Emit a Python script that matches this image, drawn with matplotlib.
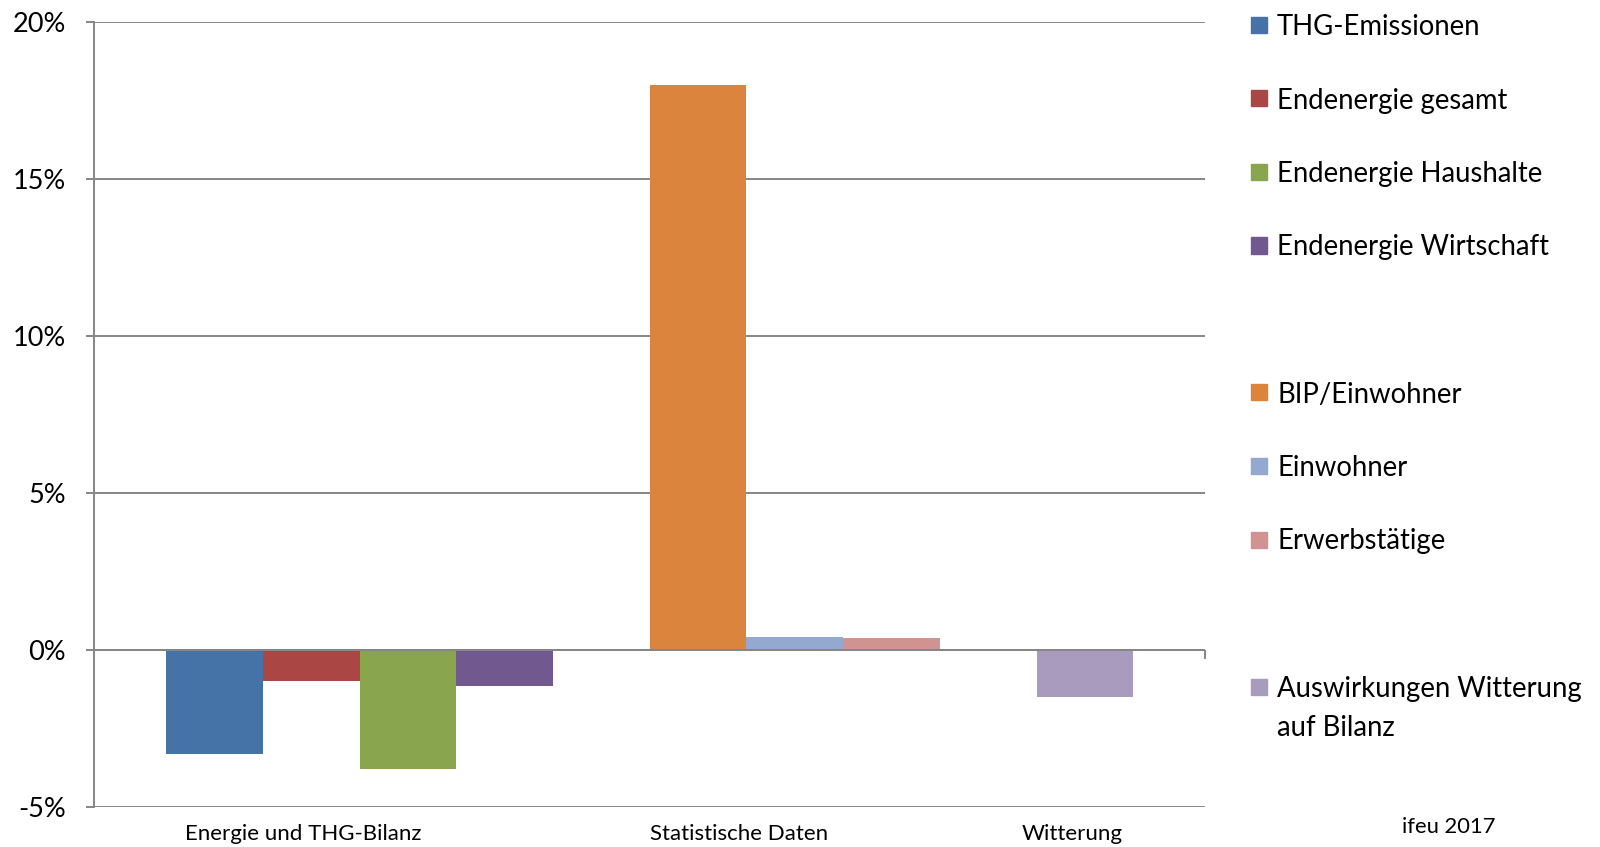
import matplotlib
matplotlib.use('Agg')
import matplotlib.pyplot as plt
import numpy as np
from matplotlib.patches import Rectangle

# data
categories = ["Energie und THG-Bilanz", "Statistische Daten", "Witterung"]
series = ["THG-Emissionen", "Endenergie gesamt", "Endenergie Haushalte",
          "Endenergie Wirtschaft", "BIP/Einwohner", "Einwohner",
          "Erwerbstätige", "Auswirkungen Witterung\nauf Bilanz"]
values = [-3.3, -1.0, -3.8, -1.15, 18.0, 0.42, 0.38, -1.5]
group = [0, 0, 0, 0, 1, 1, 1, 2]
colors = ["#4572A7", "#AA4643", "#89A54E", "#71588F",
          "#DB843D", "#93A9CF", "#D19392", "#A99BBD"]
yticks = [-5, 0, 5, 10, 15, 20]

plt.rcParams['font.family'] = ['Lato', 'DejaVu Sans']
grid_c = '#868686'
W, H = 1600, 847

fig = plt.figure(figsize=(16, 8.47), dpi=100)
ax = fig.add_axes([94 / W, 1 - 807 / H, (1205 - 94) / W, (807 - 22) / H])

# one slot per series, one empty slot between groups
slot = np.arange(len(values)) + np.array(group)
ax.bar(slot, values, width=1.0, align='edge', color=colors, zorder=3)

ax.set_xlim(-0.745, 10.74)
ax.set_ylim(-5, 20)
ax.set_yticks(yticks)
ax.set_yticklabels([f"{v}%" for v in yticks], fontsize=19.5)
ax.yaxis.grid(True, color=grid_c, linewidth=1.4, zorder=0)
ax.axhline(0, color=grid_c, linewidth=1.4, zorder=4)
ax.vlines(10.74, -0.3, 0, color=grid_c, linewidth=1.4, clip_on=False)
for s in ['top', 'right', 'bottom']:
    ax.spines[s].set_visible(False)
ax.spines['left'].set_color(grid_c)
ax.spines['left'].set_linewidth(1.4)
ax.tick_params(axis='y', length=6, width=1.4, color=grid_c, pad=14)

# category labels
label_pos = [1.42, 5.92, 9.37]
ax.set_xticks(label_pos)
ax.set_xticklabels(categories, fontsize=16)
ax.tick_params(axis='x', length=0, pad=12)

# legend on the right, blank rows between groups
sq = 16
for i, (lab, c) in enumerate(zip(series, colors)):
    yc = 25 + slot[i] * 73.5
    fig.patches.append(Rectangle((1251 / W, 1 - (yc + sq / 2) / H), sq / W, sq / H,
                                 transform=fig.transFigure, color=c))
    for k, line in enumerate(lab.split('\n')):
        fig.text(1277 / W, 1 - (yc + 2 + k * 40) / H, line, fontsize=19.8,
                 va='center', ha='left')

fig.text(1449 / W, 1 - 827 / H, "ifeu 2017", fontsize=15.8, ha='center', va='center')

fig.savefig('out.png', dpi=100)
